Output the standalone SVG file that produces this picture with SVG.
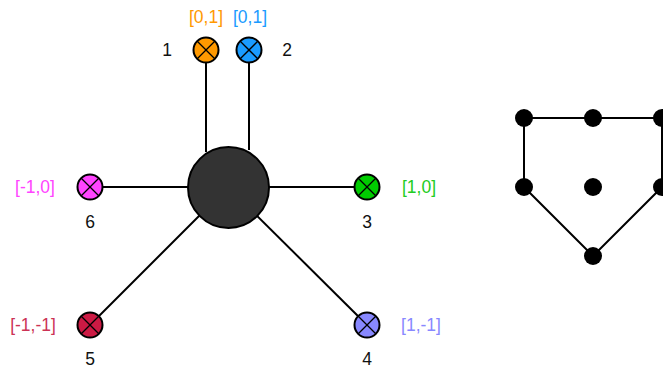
<svg xmlns="http://www.w3.org/2000/svg" width="663" height="368" viewBox="0 0 663 368">
<style>
.ln{stroke:#000;stroke-width:2;fill:none}
.nd{stroke:#000;stroke-width:2}
.x{stroke:#000;stroke-width:1.3}
text{font-family:"Liberation Sans",Arial,sans-serif;font-size:17.5px;text-anchor:middle;dominant-baseline:central}
.num{fill:#111}
</style>
<defs>
<g id="cross"><line class="x" x1="-9" y1="-9" x2="9" y2="9"/><line class="x" x1="9" y1="-9" x2="-9" y2="9"/></g>
</defs>
<rect width="663" height="368" fill="#fff"/>
<g id="connectors">
<line class="ln" x1="206" y1="50" x2="206" y2="152"/>
<line class="ln" x1="249" y1="50" x2="249" y2="150"/>
<line class="ln" x1="90" y1="187" x2="228" y2="187"/>
<line class="ln" x1="367" y1="187" x2="228" y2="187"/>
<line class="ln" x1="90" y1="325" x2="228" y2="187"/>
<line class="ln" x1="367" y1="325" x2="228" y2="187"/>
</g>
<g id="hub"><circle cx="228.5" cy="187.5" r="40.5" fill="#333" class="nd"/></g>
<g id="n1"><circle cx="206" cy="50" r="12.5" fill="#ff9900" class="nd"/><use href="#cross" x="206" y="50"/><text x="167" y="50" class="num">1</text><text x="206" y="17" fill="#ff9900">[0,1]</text></g>
<g id="n2"><circle cx="249" cy="50" r="12.5" fill="#1a9bff" class="nd"/><use href="#cross" x="249" y="50"/><text x="287" y="50" class="num">2</text><text x="250" y="17" fill="#1a9bff">[0,1]</text></g>
<g id="n3"><circle cx="367" cy="187" r="12.5" fill="#00cc00" class="nd"/><use href="#cross" x="367" y="187"/><text x="367" y="222" class="num">3</text><text x="419" y="187" fill="#22cc22">[1,0]</text></g>
<g id="n4"><circle cx="367" cy="325" r="12.5" fill="#8888ff" class="nd"/><use href="#cross" x="367" y="325"/><text x="367" y="359" class="num">4</text><text x="421" y="325" fill="#8888ff">[1,-1]</text></g>
<g id="n5"><circle cx="90" cy="325" r="12.5" fill="#cc1a44" class="nd"/><use href="#cross" x="90" y="325"/><text x="90" y="359" class="num">5</text><text x="33" y="325" fill="#cc3355">[-1,-1]</text></g>
<g id="n6"><circle cx="90" cy="187" r="12.5" fill="#ff44ff" class="nd"/><use href="#cross" x="90" y="187"/><text x="90" y="222" class="num">6</text><text x="35" y="187" fill="#ff44ff">[-1,0]</text></g>
<g id="polygon">
<polyline class="ln" points="662,118 524,118 524,187 593,256 662,187 662,118"/>
<circle cx="524" cy="118" r="9"/><circle cx="593" cy="118" r="9"/><circle cx="662" cy="118" r="9"/>
<circle cx="524" cy="187" r="9"/><circle cx="593" cy="187" r="9"/><circle cx="662" cy="187" r="9"/>
<circle cx="593" cy="256" r="9"/>
</g>
</svg>
